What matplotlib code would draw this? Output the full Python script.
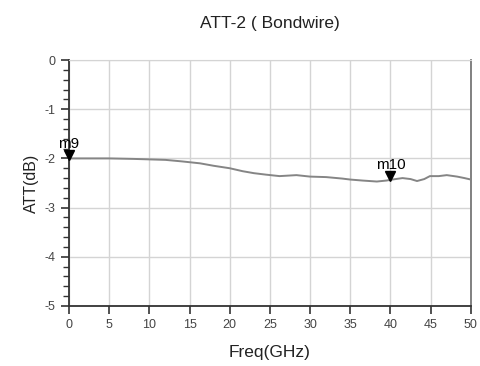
import matplotlib.pyplot as plt
from matplotlib.ticker import MultipleLocator

plt.rcParams['font.family'] = ['Liberation Sans', 'DejaVu Sans']
plt.rcParams['axes.unicode_minus'] = False

freq = [0, 2, 5, 8, 10, 12, 14, 16.3, 18, 20, 21.6, 23, 24.5, 26.2, 28.3, 30, 32, 34, 35,
        36.5, 38.3, 39.5, 40.2, 41.5, 42.5, 43.3, 44.2, 44.9, 46, 47, 48.3, 49.2, 50]
att = [-2.0, -2.0, -2.0, -2.01, -2.02, -2.03, -2.06, -2.1, -2.15, -2.2, -2.26, -2.3, -2.33,
       -2.36, -2.34, -2.37, -2.38, -2.41, -2.43, -2.45, -2.47, -2.45, -2.43, -2.4, -2.42,
       -2.46, -2.42, -2.36, -2.36, -2.34, -2.37, -2.4, -2.43]
markers = [("m9", 0, -2.0), ("m10", 40, -2.43)]

fig = plt.figure(figsize=(4.8, 3.66), dpi=100)
ax = fig.add_axes([0.1437, 0.164, 0.8373, 0.672])

ax.plot(freq, att, color="#858585", lw=1.4, zorder=3)
for name, fx, fy in markers:
    ax.plot(fx, fy + 0.07, marker="v", color="black", ms=6.5, zorder=4, clip_on=False)
    ax.text(fx, fy + 0.16, name, ha="center", va="bottom", fontsize=11, color="black")

ax.set_xlim(0, 50)
ax.set_ylim(-5, 0)
ax.xaxis.set_major_locator(MultipleLocator(5))
ax.yaxis.set_major_locator(MultipleLocator(1))
ax.yaxis.set_minor_locator(MultipleLocator(0.2))
ax.grid(True, which="major", color="#d4d4d4", lw=1.0)
ax.tick_params(axis="both", which="major", direction="out", length=6, width=1.2,
               labelsize=9, labelcolor="#444444", color="#333333")
ax.tick_params(axis="y", which="minor", direction="out", length=4, width=1.0, color="#333333")
for s in ["left", "bottom"]:
    ax.spines[s].set_color("#333333")
    ax.spines[s].set_linewidth(1.3)
ax.spines["top"].set_color("#d4d4d4")
ax.spines["right"].set_color("#777777")
ax.spines["right"].set_linewidth(1.3)

ax.set_xlabel("Freq(GHz)", fontsize=12.5, color="#222222", labelpad=10)
ax.set_ylabel("ATT(dB)", fontsize=11.5, color="#222222", labelpad=4)
fig.text(0.5625, 0.935, "ATT-2 ( Bondwire)", ha="center", va="center", fontsize=12.5, color="#222222")

fig.savefig("out.png", dpi=100)
